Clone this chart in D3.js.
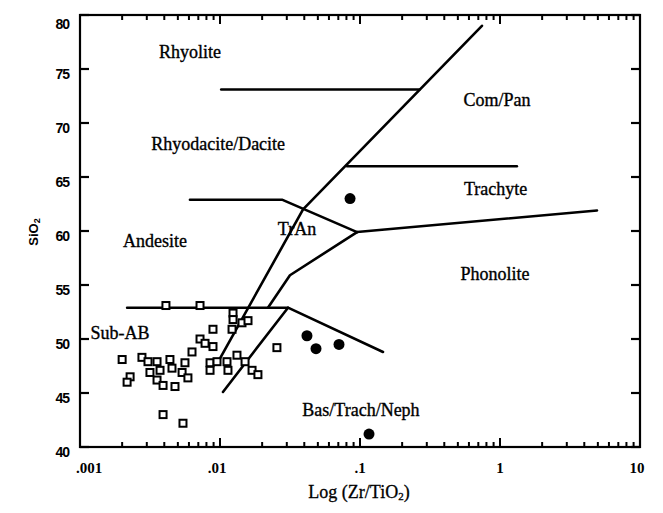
<!DOCTYPE html>
<html>
<head>
<meta charset="utf-8">
<script src="https://cdn.jsdelivr.net/npm/d3@7"></script>
<style>
  html, body { margin: 0; padding: 0; background: #fff; }
  svg { display: block; }
</style>
</head>
<body>
<svg id="chart" width="663" height="513"></svg>
<script>
// Zr/TiO2 vs SiO2 classification diagram

// Axis ticks
const xTickValues = [0.001, 0.01, 0.1, 1, 10];
const xTickLabels = [".001", ".01", ".1", "1", "10"];
const yTickValues = [40, 45, 50, 55, 60, 65, 70, 75, 80];

// Field boundaries, [Zr/TiO2, SiO2]
const rhyoliteComPan   = [[0.0102, 73.1], [0.266, 73.1]];
const mainDivide       = [[0.743, 79.0], [0.0392, 62.0], [0.0098, 48.0]];
const trachyteComPan   = [[0.0807, 66.0], [1.32, 66.0]];
const andesiteTrAn     = [[0.0061, 62.9], [0.0277, 62.9], [0.0953, 59.9]];
const trachytePhonolite = [[0.0953, 59.9], [4.93, 61.9]];
const tranPhonolite    = [[0.0953, 59.9], [0.0316, 55.9], [0.022, 52.9]];
const subAbTop         = [[0.00217, 52.9], [0.0306, 52.9], [0.146, 48.8]];
const alkBasLower      = [[0.0105, 45.1], [0.0306, 52.9]];
const boundaries = [rhyoliteComPan, mainDivide, trachyteComPan, andesiteTrAn,
                    trachytePhonolite, tranPhonolite, subAbTop, alkBasLower];

// Field names and their anchor positions
const fieldNames = ["Rhyolite", "Com/Pan", "Rhyodacite/Dacite", "Trachyte", "TrAn",
                    "Andesite", "Phonolite", "Sub-AB", "Bas/Trach/Neph"];
const fieldX = [0.0061, 0.953, 0.0097, 0.93, 0.0355, 0.00343, 0.92, 0.00193, 0.1016];
const fieldY = [76.6, 72.1, 68.1, 63.9, 60.2, 59.1, 56.0, 50.6, 43.4];

// Samples: open squares
const squareZr = [0.00411, 0.00720, 0.01239, 0.01239, 0.01436, 0.01585, 0.01219, 0.00891,
                  0.00720, 0.00782, 0.00891, 0.00631, 0.0255, 0.00200, 0.00277, 0.00306,
                  0.00355, 0.00439, 0.00562, 0.00849, 0.00952, 0.01122, 0.01322, 0.01510,
                  0.00849, 0.01140, 0.01694, 0.01866, 0.00316, 0.00373, 0.00454, 0.00536,
                  0.00590, 0.00228, 0.00217, 0.00355, 0.00392, 0.00477, 0.00392, 0.00544];
const squareSi = [53.1, 53.1, 52.4, 51.8, 51.5, 51.7, 50.9, 50.9,
                  50.0, 49.6, 49.3, 48.8, 49.2, 48.1, 48.3, 47.9,
                  47.9, 48.1, 47.8, 47.8, 47.9, 47.9, 48.5, 47.9,
                  47.1, 47.1, 47.1, 46.7, 46.9, 47.1, 47.3, 46.9,
                  46.4, 46.5, 46.0, 46.2, 45.7, 45.6, 43.0, 42.2];

// Samples: filled circles
const circleZr = [0.0849, 0.0418, 0.0485, 0.0708, 0.116];
const circleSi = [63.0, 50.3, 49.1, 49.5, 41.2];

const svg = d3.select("#chart");
const x = d3.scaleLog().domain([0.001, 10]).range([80, 640]);
const y = d3.scaleLinear().domain([40, 80]).range([447, 15]);

const ink = "#000";
const serif = "'Liberation Serif', 'DejaVu Serif', serif";
const sans = "'Liberation Sans', Arial, sans-serif";

// Minor/major log ticks along bottom and top
const logTicks = x.ticks(40);
const isMajor = v => xTickValues.some(t => Math.abs(t - v) / t < 1e-6);
["bottom", "top"].forEach(side => {
  const y0 = side === "bottom" ? y(40) : y(80);
  const dir = side === "bottom" ? -1 : 1;
  svg.append("g").selectAll("line").data(logTicks).join("line")
    .attr("x1", d => x(d)).attr("x2", d => x(d))
    .attr("y1", y0).attr("y2", d => y0 + dir * (isMajor(d) ? 9 : 5))
    .attr("stroke", ink).attr("stroke-width", 2);
});

// Y ticks on left and right
[x(0.001), x(10)].forEach((x0, i) => {
  const dir = i === 0 ? 1 : -1;
  svg.append("g").selectAll("line").data(yTickValues).join("line")
    .attr("x1", x0).attr("x2", x0 + dir * 9)
    .attr("y1", d => y(d)).attr("y2", d => y(d))
    .attr("stroke", ink).attr("stroke-width", 2.2);
});

// Frame
svg.append("rect")
  .attr("x", x(0.001)).attr("y", y(80))
  .attr("width", x(10) - x(0.001)).attr("height", y(40) - y(80))
  .attr("fill", "none").attr("stroke", ink).attr("stroke-width", 2.2);

// Tick labels
svg.append("g").selectAll("text").data(yTickValues).join("text")
  .attr("x", x(0.001) - 11).attr("y", d => y(d) + (d === 80 ? 9 : 5))
  .attr("text-anchor", "end").attr("dominant-baseline", "central")
  .attr("font-family", sans).attr("font-weight", "bold").attr("font-size", 14)
  .attr("letter-spacing", -1)
  .text(d => d);

svg.append("g").selectAll("text").data(xTickValues).join("text")
  .attr("x", (d, i) => x(d) + (i === 0 ? 9 : i === 1 ? -3 : i === 4 ? -3 : 0))
  .attr("y", 468)
  .attr("text-anchor", "middle").attr("dominant-baseline", "central")
  .attr("font-family", serif).attr("font-weight", "bold").attr("font-size", 15)
  .text((d, i) => xTickLabels[i]);

// Field boundaries
const line = d3.line().x(d => x(d[0])).y(d => y(d[1]));
svg.append("g").selectAll("path").data(boundaries).join("path")
  .attr("d", line).attr("fill", "none")
  .attr("stroke", ink).attr("stroke-width", 2.6)
  .attr("stroke-linejoin", "round").attr("stroke-linecap", "round");

// Field names
svg.append("g").selectAll("text").data(fieldNames).join("text")
  .attr("x", (d, i) => x(fieldX[i])).attr("y", (d, i) => y(fieldY[i]))
  .attr("text-anchor", "middle").attr("dominant-baseline", "central")
  .attr("font-family", serif).attr("font-size", 18)
  .attr("stroke", ink).attr("stroke-width", 0.35)
  .text(d => d);

// Open squares
const sq = 7;
svg.append("g").selectAll("rect").data(squareZr).join("rect")
  .attr("x", (d, i) => x(d) - sq / 2).attr("y", (d, i) => y(squareSi[i]) - sq / 2)
  .attr("width", sq).attr("height", sq)
  .attr("fill", "#fff").attr("stroke", ink).attr("stroke-width", 2);

// Filled circles
svg.append("g").selectAll("circle").data(circleZr).join("circle")
  .attr("cx", d => x(d)).attr("cy", (d, i) => y(circleSi[i]))
  .attr("r", 5.5).attr("fill", ink);

// Axis titles
const xt = svg.append("text")
  .attr("x", 359).attr("y", 492)
  .attr("text-anchor", "middle").attr("dominant-baseline", "central")
  .attr("font-family", serif).attr("font-size", 18)
  .attr("stroke", ink).attr("stroke-width", 0.3);
xt.append("tspan").text("Log (Zr/TiO");
xt.append("tspan").attr("font-size", 11).attr("dy", 4).text("2");
xt.append("tspan").attr("dy", -4).text(")");

const yt = svg.append("text")
  .attr("transform", "translate(33,232) rotate(-90)")
  .attr("text-anchor", "middle").attr("dominant-baseline", "central")
  .attr("font-family", sans).attr("font-weight", "bold").attr("font-size", 13);
yt.append("tspan").text("SiO");
yt.append("tspan").attr("font-size", 9).attr("dy", 4).text("2");
</script>
</body>
</html>
